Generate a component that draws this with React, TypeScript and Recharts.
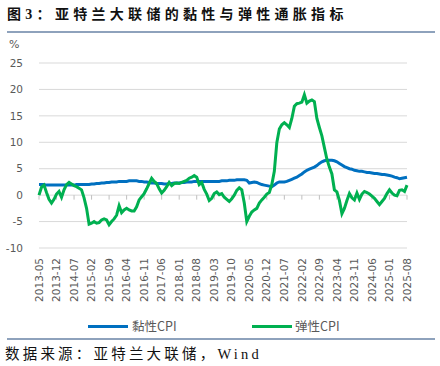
import React from "react";
import { LineChart, Line, XAxis, YAxis, CartesianGrid, ReferenceLine } from "recharts";

// 黏性CPI, monthly from 2013-05 to 2025-08 (%)
const sticky = [
  2.0, 2.0, 2.0, 1.9, 1.9, 1.9, 1.9, 1.9, 1.9, 1.9, 1.9, 1.9,
  1.9, 1.9, 1.9, 2.0, 2.0, 2.0, 2.0, 2.0, 2.0, 2.1, 2.1, 2.2,
  2.2, 2.3, 2.3, 2.4, 2.4, 2.5, 2.5, 2.5, 2.6, 2.6, 2.6, 2.6,
  2.7, 2.7, 2.7, 2.7, 2.6, 2.6, 2.5, 2.5, 2.4, 2.3, 2.3, 2.2,
  2.2, 2.2, 2.1, 2.1, 2.2, 2.2, 2.3, 2.3, 2.3, 2.4, 2.4, 2.5,
  2.5, 2.5, 2.6, 2.6, 2.6, 2.6, 2.6, 2.6, 2.6, 2.6, 2.6, 2.6,
  2.6, 2.7, 2.7, 2.7, 2.8, 2.8, 2.8, 2.9, 2.9, 2.9, 2.9, 2.8,
  2.3, 2.4, 2.5, 2.4, 2.2, 2.0, 1.9, 1.8, 1.7, 1.6, 1.9, 2.3,
  2.5, 2.5, 2.5, 2.6, 2.8, 3.0, 3.2, 3.4, 3.7, 4.0, 4.4, 4.7,
  4.9, 5.1, 5.3, 5.6, 6.0, 6.3, 6.5, 6.6, 6.6, 6.6, 6.5, 6.3,
  6.0, 5.7, 5.4, 5.2, 5.0, 4.9, 4.7, 4.6, 4.5, 4.5, 4.4, 4.3,
  4.3, 4.2, 4.1, 4.1, 4.0, 3.9, 3.9, 3.8, 3.7, 3.6, 3.4, 3.3,
  3.1, 3.2, 3.3, 3.4,
];

// 弹性CPI, same months (%)
const flexible = [
  0.0, 1.5, 1.9, 0.5, -0.8, -1.5, -0.8, 0.2, 0.7, -0.4, 1.0, 2.0,
  2.4, 2.1, 1.8, 1.6, 1.3, 1.0, -0.5, -2.5, -5.5, -5.3, -5.0, -5.3,
  -5.2, -4.7, -4.5, -4.7, -5.6, -5.0, -4.5, -3.8, -2.0, -3.3, -2.8, -2.5,
  -2.8, -3.0, -3.0, -2.2, -0.9, -0.3, 0.3, 1.2, 2.2, 3.2, 2.6, 2.2,
  1.2, 0.4, 0.9, 1.6, 2.4, 1.8, 2.2, 2.3, 2.2, 2.4, 2.6, 2.8,
  3.2, 3.4, 3.7, 3.4, 2.0, 2.4, 1.1, 0.2, -1.0, -0.6, 0.3, 0.6,
  0.1, 0.3, -0.4, -0.8, -1.2, -0.7, 0.0, 0.9, 1.4, 1.0, -1.5, -5.0,
  -4.0, -3.2, -2.8, -2.5, -1.5, -0.9, -0.4, 0.2, 0.5, 2.0, 4.5, 9.9,
  12.5, 13.3, 13.7, 13.3, 12.8, 14.5, 16.8, 17.3, 17.4, 17.6, 19.0, 17.4,
  17.8, 18.0, 17.7, 14.5, 12.8, 11.2, 9.0, 6.8, 5.3, 4.0, 1.0, 0.6,
  -1.0, -3.5, -2.5, -1.0, 0.3, -0.5, -0.9, 0.4, -0.8, 0.2, 0.7, 0.5,
  0.2, -0.2, -0.6, -1.2, -1.8, -1.2, -0.6, 0.3, 1.0, 0.4, 0.0, -0.1,
  0.9, 1.0, 0.7, 1.9,
];

const tickLabels = [
  "2013-05", "2013-12", "2014-07", "2015-02", "2015-09", "2016-04", "2016-11",
  "2017-06", "2018-01", "2018-08", "2019-03", "2019-10", "2020-05", "2020-12",
  "2021-07", "2022-02", "2022-09", "2023-04", "2023-11", "2024-06", "2025-01",
  "2025-08",
];

const yTicks = [-10, -5, 0, 5, 10, 15, 20, 25];

// month labels, 2013-05 onwards
const months = sticky.map((_, i) => {
  const m = 4 + i;
  const yr = 2013 + Math.floor(m / 12);
  const mo = (m % 12) + 1;
  return `${yr}-${String(mo).padStart(2, "0")}`;
});

const data = months.map((month, i) => ({
  month,
  sticky: sticky[i],
  flexible: flexible[i],
}));

const BLUE = "#0070C0";
const GREEN = "#00B050";
const AXIS_TEXT = "#595959";
const RULE = "#8EA2BC";

const MonthTick = (props: any) => {
  const { x, y, payload } = props;
  return (
    <text
      x={x}
      y={y}
      transform={`rotate(-90, ${x}, ${y})`}
      textAnchor="end"
      dy="0.35em"
      fill={AXIS_TEXT}
      fontSize={10.5}
      fontFamily="'DejaVu Sans', sans-serif"
    >
      {payload.value}
    </text>
  );
};

const serif = "'Liberation Serif', 'Noto Sans CJK SC', serif";

export default function App() {
  return (
    <div
      style={{
        position: "absolute",
        left: 0,
        top: 0,
        width: 440,
        height: 366,
        background: "#fff",
        overflow: "hidden",
      }}
    >
      <div
        style={{
          position: "absolute",
          left: 7,
          top: 7,
          fontSize: 14,
          lineHeight: "16px",
          fontWeight: "bold",
          letterSpacing: 4.3,
          fontFamily: serif,
          color: "#111",
          whiteSpace: "nowrap",
        }}
      >
        图3：亚特兰大联储的黏性与弹性通胀指标
      </div>
      <div style={{ position: "absolute", left: 7, top: 31, width: 428, height: 1.5, background: RULE }} />

      <div
        style={{
          position: "absolute",
          left: 9,
          top: 38,
          fontSize: 11,
          lineHeight: "14px",
          color: AXIS_TEXT,
          fontFamily: "'DejaVu Sans', sans-serif",
        }}
      >
        %
      </div>

      <div style={{ position: "absolute", left: 0, top: 0 }}>
        <LineChart width={440} height={320} data={data} margin={{ top: 63, right: 33, left: 0, bottom: 0 }}>
          <CartesianGrid vertical={false} stroke="#D9D9D9" />
          <XAxis
            dataKey="month"
            ticks={tickLabels}
            interval={0}
            axisLine={false}
            tickLine={false}
            height={72}
            tickMargin={4}
            tick={<MonthTick />}
          />
          <YAxis
            domain={[-10, 25]}
            ticks={yTicks}
            interval={0}
            width={39}
            axisLine={false}
            tickLine={false}
            tickMargin={10}
            tick={{ fill: AXIS_TEXT, fontSize: 10.5, fontFamily: "'DejaVu Sans', sans-serif" }}
          />
          {tickLabels.map((t) => (
            <ReferenceLine
              key={t}
              segment={[
                { x: t, y: 0 },
                { x: t, y: -0.85 },
              ]}
              stroke="#BFBFBF"
            />
          ))}
          <Line
            type="linear"
            dataKey="sticky"
            stroke={BLUE}
            strokeWidth={3}
            dot={false}
            isAnimationActive={false}
          />
          <Line
            type="linear"
            dataKey="flexible"
            stroke={GREEN}
            strokeWidth={3}
            dot={false}
            isAnimationActive={false}
          />
        </LineChart>
      </div>

      <div
        style={{
          position: "absolute",
          left: 0,
          top: 318,
          width: 440,
          height: 16,
          fontSize: 12.5,
          lineHeight: "16px",
          color: AXIS_TEXT,
          fontFamily: "'Noto Sans CJK SC', sans-serif",
        }}
      >
        <div style={{ position: "absolute", left: 88, top: 7, width: 40, height: 3, background: BLUE }} />
        <span style={{ position: "absolute", left: 132, top: 0, whiteSpace: "nowrap" }}>黏性CPI</span>
        <div style={{ position: "absolute", left: 252, top: 7, width: 40, height: 3, background: GREEN }} />
        <span style={{ position: "absolute", left: 295, top: 0, whiteSpace: "nowrap" }}>弹性CPI</span>
      </div>

      <div style={{ position: "absolute", left: 7, top: 338, width: 428, height: 1.5, background: RULE }} />
      <div
        style={{
          position: "absolute",
          left: 5,
          top: 346,
          fontSize: 14.5,
          lineHeight: "16px",
          letterSpacing: 3.2,
          fontFamily: serif,
          color: "#111",
          whiteSpace: "nowrap",
        }}
      >
        数据来源：亚特兰大联储，Wind
      </div>
    </div>
  );
}
